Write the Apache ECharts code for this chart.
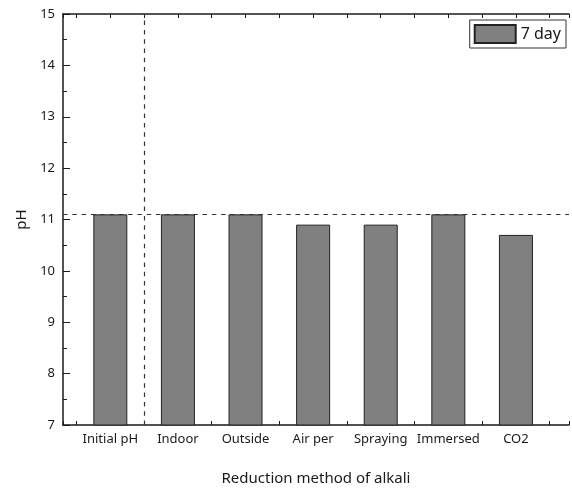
<!DOCTYPE html>
<html>
<head>
<meta charset="utf-8">
<script src="https://cdn.jsdelivr.net/npm/echarts@6/dist/echarts.min.js"></script>
<style>
  html, body { margin: 0; padding: 0; background: #fff; }
  #chart { width: 572px; height: 491px; }
</style>
</head>
<body>
<div id="chart"></div>
<script>
// pH after each alkali-reduction treatment (7 days)
const categories = ['Initial pH', 'Indoor', 'Outside', 'Air per', 'Spraying', 'Immersed', 'CO2'];
const phValues = [11.1, 11.1, 11.1, 10.9, 10.9, 11.1, 10.7];
const seriesName = '7 day';
const referencePH = 11.1;      // horizontal guide at the initial pH
const dividerPosition = 0.5;   // vertical guide between "Initial pH" and the treatments
const yTicks = [7, 8, 9, 10, 11, 12, 13, 14, 15];

const FONT = '"Noto Sans", "DejaVu Sans", sans-serif';
const INK = '#1a1a1a';

const barData = phValues.map((v, i) => [i, v]);

function categoryLabel(v) {
  const r = Math.round(v);
  if (Math.abs(v - r) < 1e-6 && r >= 0 && r < categories.length) return categories[r];
  return '';
}

const xCommon = {
  type: 'value',
  min: -0.7,
  max: 6.785,
  splitNumber: 15,
  splitLine: { show: false },
  axisLine: { show: true, onZero: false, lineStyle: { color: INK, width: 1.5 } },
  axisTick: { show: true, inside: true, length: 4, lineStyle: { color: INK, width: 1 } }
};

const chart = echarts.init(document.getElementById('chart'), null, { renderer: 'canvas' });
chart.setOption({
  animation: false,
  backgroundColor: '#fff',
  textStyle: { fontFamily: FONT },
  grid: { left: 63, right: 0, top: 14, bottom: 61, containLabel: false },
  legend: {
    show: true,
    data: [seriesName],
    right: 6,
    top: 20,
    padding: [4, 5, 4, 4],
    borderColor: '#333',
    borderWidth: 1,
    backgroundColor: '#fff',
    itemWidth: 41,
    itemHeight: 18,
    icon: 'rect',
    textStyle: { fontFamily: FONT, fontSize: 16, color: INK, lineHeight: 18 }
  },
  xAxis: [
    Object.assign({}, xCommon, {
      position: 'bottom',
      name: 'Reduction method of alkali',
      nameLocation: 'middle',
      nameGap: 46,
      nameTextStyle: { fontFamily: FONT, fontSize: 15, color: INK },
      axisLabel: {
        show: true, margin: 8, fontFamily: FONT, fontSize: 13, color: INK,
        showMinLabel: true, showMaxLabel: true,
        formatter: categoryLabel
      }
    }),
    Object.assign({}, xCommon, {
      position: 'top',
      axisLabel: { show: false }
    })
  ],
  yAxis: {
    type: 'value',
    position: 'left',
    min: yTicks[0],
    max: yTicks[yTicks.length - 1],
    interval: 1,
    name: 'pH',
    nameLocation: 'middle',
    nameGap: 34,
    nameTextStyle: { fontFamily: FONT, fontSize: 15, color: INK },
    splitLine: { show: false },
    axisLine: { show: true, onZero: false, lineStyle: { color: INK, width: 1.5 } },
    axisTick: { show: true, inside: true, length: 7, lineStyle: { color: INK, width: 1 } },
    minorTick: { show: true, splitNumber: 2, length: 4, lineStyle: { color: INK, width: 1 } },
    axisLabel: { margin: 8, fontFamily: FONT, fontSize: 13, color: INK }
  },
  series: [{
    name: seriesName,
    type: 'bar',
    xAxisIndex: 0,
    barWidth: 34,
    data: barData,
    itemStyle: { color: '#808080', borderColor: '#222', borderWidth: 1 },
    markLine: {
      silent: true,
      symbol: 'none',
      label: { show: false },
      lineStyle: { color: '#333', type: [4.5, 4.8], width: 1.2 },
      data: [
        { yAxis: referencePH },
        { xAxis: dividerPosition }
      ]
    }
  }]
});
</script>
</body>
</html>
